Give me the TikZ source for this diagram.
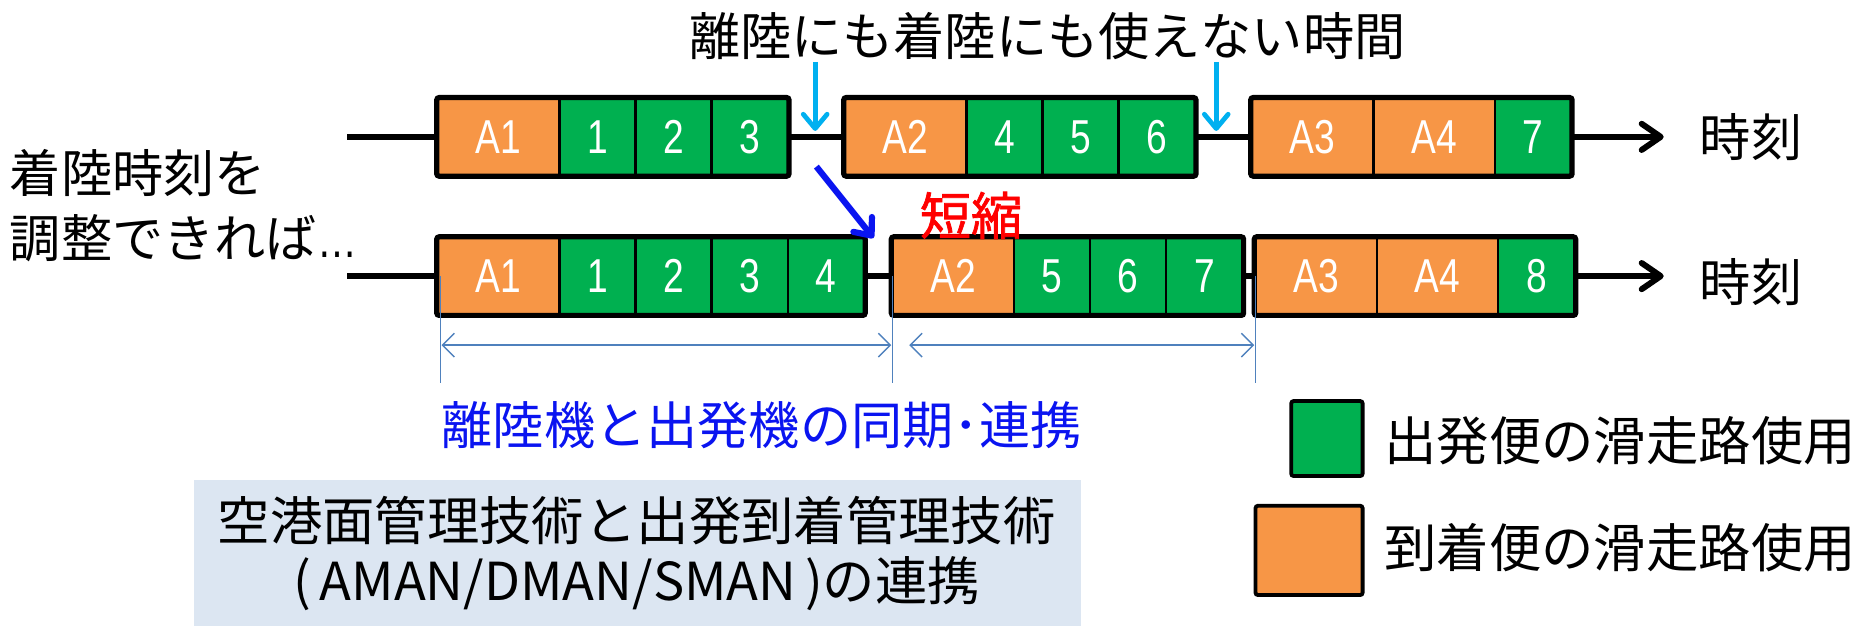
\documentclass[tikz,border=0pt]{standalone}
\usepackage{fontspec}
\setmainfont{Noto Sans CJK JP}
\newfontfamily\boldcjk[FakeBold=1.3]{Noto Sans CJK JP}
\newfontfamily\narrowfont[FakeStretch=0.78]{Liberation Sans}
\usetikzlibrary{arrows.meta,fit}
\definecolor{arrc}{HTML}{F79646}
\definecolor{depc}{HTML}{00B050}
\definecolor{cyanc}{HTML}{00B0F0}
\definecolor{dimc}{HTML}{4F81BD}
\definecolor{boxc}{HTML}{DCE6F2}
\definecolor{bluec}{HTML}{0A14F0}
\definecolor{redc}{HTML}{FF0000}
\begin{document}
\begin{tikzpicture}[x=0.5pt,y=-0.5pt,
  cell/.style={draw=black, line width=1pt, minimum height=32pt, inner sep=0pt, text=white, font=\narrowfont\fontsize{20}{22}\selectfont},
  arr/.style={cell, fill=arrc, minimum width=51pt},
  dep/.style={cell, fill=depc, minimum width=32pt},
  grp/.style={draw=black, line width=2.2pt, rounded corners=1pt, inner sep=0pt},
  tl/.style={line width=2.5pt, line cap=butt},
  tltip/.style={tl, -{Straight Barb[length=8pt,width=11pt,line width=2.5pt,round]}},
  lbl/.style={font=\fontsize{21.5}{27.5}\selectfont, inner sep=0pt},
  cyanarr/.style={cyanc, line width=2pt, -{Straight Barb[length=6pt,width=10pt,round]}},
  bluearr/.style={bluec, line width=2.6pt, -{Straight Barb[length=6pt,width=10pt,round]}},
  dimline/.style={dimc, line width=0.6pt},
  dimarr/.style={dimline, {Straight Barb[length=5pt,width=10pt]}-{Straight Barb[length=5pt,width=10pt]}},
  legbox/.style={draw=black, line width=1.6pt, rounded corners=1pt, inner sep=0pt}
]
\useasboundingbox (0,0) rectangle (1568,526);

% timelines (behind the boxes)
\coordinate (s1) at (292,115);
\coordinate (e1) at (1398,115);
\coordinate (s2) at (292,232);
\coordinate (e2) at (1398,232);
\draw[tltip] (s1) -- (e1);
\draw[tltip] (s2) -- (e2);

% row 1
\node[arr] (r1a1) at (419,115) {A1};
\node[dep] (r1d1) at (502,115) {1};
\node[dep] (r1d2) at (566,115) {2};
\node[dep] (r1d3) at (630,115) {3};
\node[arr] (r1a2) at (761,115) {A2};
\node[dep] (r1d4) at (844,115) {4};
\node[dep] (r1d5) at (908,115) {5};
\node[dep] (r1d6) at (972,115) {6};
\node[arr] (r1a3) at (1103,115) {A3};
\node[arr] (r1a4) at (1205,115) {A4};
\node[dep] (r1d7) at (1288,115) {7};
\node[grp, fit=(r1a1)(r1d3)] (g11) {};
\node[grp, fit=(r1a2)(r1d6)] (g12) {};
\node[grp, fit=(r1a3)(r1d7)] (g13) {};

% row 2
\node[arr] (r2a1) at (419,232) {A1};
\node[dep] (r2d1) at (502,232) {1};
\node[dep] (r2d2) at (566,232) {2};
\node[dep] (r2d3) at (630,232) {3};
\node[dep] (r2d4) at (694,232) {4};
\node[arr] (r2a2) at (801,232) {A2};
\node[dep] (r2d5) at (884,232) {5};
\node[dep] (r2d6) at (948,232) {6};
\node[dep] (r2d7) at (1012,232) {7};
\node[arr] (r2a3) at (1106,232) {A3};
\node[arr] (r2a4) at (1208,232) {A4};
\node[dep] (r2d8) at (1291,232) {8};
\node[grp, fit=(r2a1)(r2d4)] (g21) {};
\node[grp, fit=(r2a2)(r2d7)] (g22) {};
\node[grp, fit=(r2a3)(r2d8)] (g23) {};

% time labels
\node[lbl, anchor=west] (t1) at (1428,115) {時刻};
\node[lbl, anchor=west] (t2) at (1428,237) {時刻};

% top caption and cyan arrows
\node[lbl] (top) at (880,30) {離陸にも着陸にも使えない時間};
\coordinate (c1s) at (685,52);
\coordinate (c1e) at (685,110);
\coordinate (c2s) at (1022,52);
\coordinate (c2e) at (1022,110);
\draw[cyanarr] (c1s) -- (c1e);
\draw[cyanarr] (c2s) -- (c2e);

% left text
\node[lbl, anchor=west, align=left] (adj) at (8,173) {着陸時刻を\\調整できれば{\narrowfont …}};

% blue arrow and red label
\coordinate (b1s) at (686,140);
\coordinate (b1e) at (734,200);
\draw[bluearr] (b1s) -- (b1e);
\node[lbl, text=redc, font=\boldcjk\fontsize{21.5}{25}\selectfont] (short) at (816,181) {短縮};

% dimension lines
\coordinate (v1t) at (370,232);
\coordinate (v1b) at (370,322);
\coordinate (v2t) at (750,232);
\coordinate (v2b) at (750,322);
\coordinate (v3t) at (1055,232);
\coordinate (v3b) at (1055,322);
\draw[dimline] (v1t) -- (v1b);
\draw[dimline] (v2t) -- (v2b);
\draw[dimline] (v3t) -- (v3b);
\coordinate (d1s) at (371,290);
\coordinate (d1e) at (749,290);
\coordinate (d2s) at (764,290);
\coordinate (d2e) at (1054,290);
\draw[dimarr] (d1s) -- (d1e);
\draw[dimarr] (d2s) -- (d2e);

% blue caption
\node[lbl, text=bluec] (sync) at (640,357) {離陸機と出発機の同期･連携};

% technology box
\node[fill=boxc, inner sep=0pt, minimum width=372.5pt, minimum height=61.5pt] (tech) at (535.5,464.5) {};
\node[lbl, font=\fontsize{22}{25}\selectfont, align=center] (techtext) at (535,465) {空港面管理技術と出発到着管理技術\\(\,AMAN/DMAN/SMAN\,)の連携};

% legend
\node[legbox, fill=depc, minimum width=30pt, minimum height=31.5pt] (ldep) at (1115,368.5) {};
\node[legbox, fill=arrc, minimum width=45pt, minimum height=37.5pt] (larr) at (1100,462.5) {};
\node[lbl, anchor=west, font=\fontsize{22}{25}\selectfont] (ldeptext) at (1163,370) {出発便の滑走路使用};
\node[lbl, anchor=west, font=\fontsize{22}{25}\selectfont] (larrtext) at (1163,460) {到着便の滑走路使用};
\end{tikzpicture}
\end{document}
